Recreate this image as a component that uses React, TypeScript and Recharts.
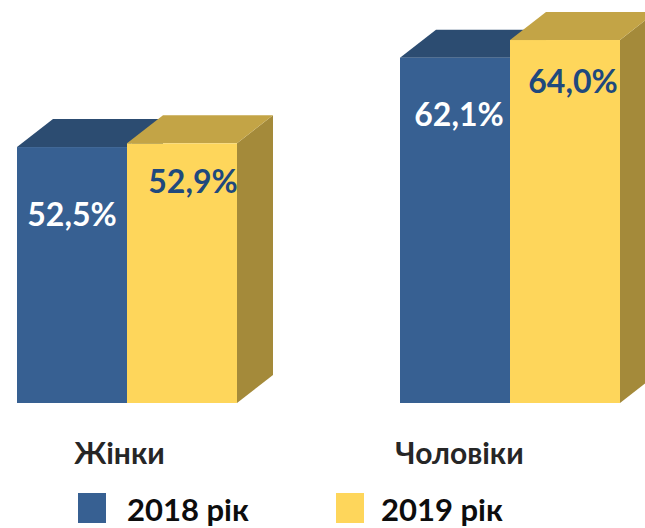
import React from "react";
import { BarChart, Bar, XAxis, YAxis, LabelList } from "recharts";

const categories = ["Жінки", "Чоловіки"];
const series2018 = [52.5, 62.1];
const series2019 = [52.9, 64.0];
const seriesNames = ["2018 рік", "2019 рік"];

const data = categories.map((c, i) => ({ name: c, y2018: series2018[i], y2019: series2019[i] }));

const FONT = "Lato, 'Open Sans', sans-serif";
const DEPTH_X = 36;
const DEPTH_Y = 28;

const colors = {
  blue: { front: "#376092", top: "#2C4C71", side: "#254061", label: "#FFFFFF" },
  yellow: { front: "#FED65B", top: "#C3A446", side: "#A48A3A", label: "#1F497D" },
};

const labelPos = {
  blue: [{ dx: 0, dy: 66 }, { dx: 4, dy: 56 }],
  yellow: [{ dx: 11, dy: 37 }, { dx: 8, dy: 40 }],
};
const tickDx = [-7, -50];

const make3D = (c: any) => (props: any) => {
  const { x, y, width, height } = props;
  if (height == null || height <= 0) return null;
  const b = y + height;
  const top = `${x},${y} ${x + width},${y} ${x + width + DEPTH_X},${y - DEPTH_Y} ${x + DEPTH_X},${y - DEPTH_Y}`;
  const side = `${x + width},${y} ${x + width + DEPTH_X},${y - DEPTH_Y} ${x + width + DEPTH_X},${b - DEPTH_Y} ${x + width},${b}`;
  return (
    <g>
      <polygon points={side} fill={c.side} />
      <polygon points={top} fill={c.top} />
      <rect x={x} y={y} width={width} height={height} fill={c.front} />
    </g>
  );
};

const makeLabel = (c: any, pos: any[]) => (props: any) => {
  const { x, y, width, value, index } = props;
  const p = pos[index] || { dx: 0, dy: 50 };
  return (
    <text
      x={x + width / 2 + p.dx}
      y={y + p.dy}
      textAnchor="middle"
      dominantBaseline="central"
      fill={c.label}
      fontFamily={FONT}
      fontWeight={700}
      fontSize={32}
    >
      {String(Number(value).toFixed(1)).replace(".", ",") + "%"}
    </text>
  );
};

const CategoryTick = (props: any) => {
  const { x, y, payload, index } = props;
  return (
    <text
      x={x + (tickDx[index] || 0)}
      y={y}
      dy={53}
      textAnchor="middle"
      fill="#262626"
      fontFamily={FONT}
      fontWeight={700}
      fontSize={30}
    >
      {payload.value}
    </text>
  );
};

export default function App() {
  const legendItems = [
    { name: seriesNames[0], color: colors.blue.front, sq: 78, tx: 127 },
    { name: seriesNames[1], color: colors.yellow.front, sq: 336, tx: 381 },
  ];
  return (
    <div style={{ position: "absolute", left: 0, top: 0, width: 645, height: 528, overflow: "hidden", background: "#fff" }}>
      <div style={{ position: "absolute", left: -65, top: 0 }}>
        <BarChart
          width={766}
          height={528}
          data={data}
          margin={{ top: 0, right: 0, bottom: 95, left: 0 }}
          barCategoryGap={82}
          barGap={0}
        >
          <XAxis dataKey="name" axisLine={false} tickLine={false} height={30} tick={<CategoryTick />} interval={0} />
          <YAxis hide domain={[25, 68.3]} />
          <Bar dataKey="y2018" name={seriesNames[0]} isAnimationActive={false} shape={make3D(colors.blue)}>
            <LabelList dataKey="y2018" content={makeLabel(colors.blue, labelPos.blue)} />
          </Bar>
          <Bar dataKey="y2019" name={seriesNames[1]} isAnimationActive={false} shape={make3D(colors.yellow)}>
            <LabelList dataKey="y2019" content={makeLabel(colors.yellow, labelPos.yellow)} />
          </Bar>
        </BarChart>
      </div>
      {legendItems.map((it) => (
        <React.Fragment key={it.name}>
          <div style={{ position: "absolute", left: it.sq, top: 493, width: 28, height: 30, background: it.color }} />
          <div
            style={{
              position: "absolute",
              left: it.tx,
              top: 489,
              fontFamily: FONT,
              fontWeight: 700,
              fontSize: 31,
              lineHeight: "40px",
              color: "#0D0D0D",
              whiteSpace: "nowrap",
            }}
          >
            {it.name}
          </div>
        </React.Fragment>
      ))}
    </div>
  );
}
